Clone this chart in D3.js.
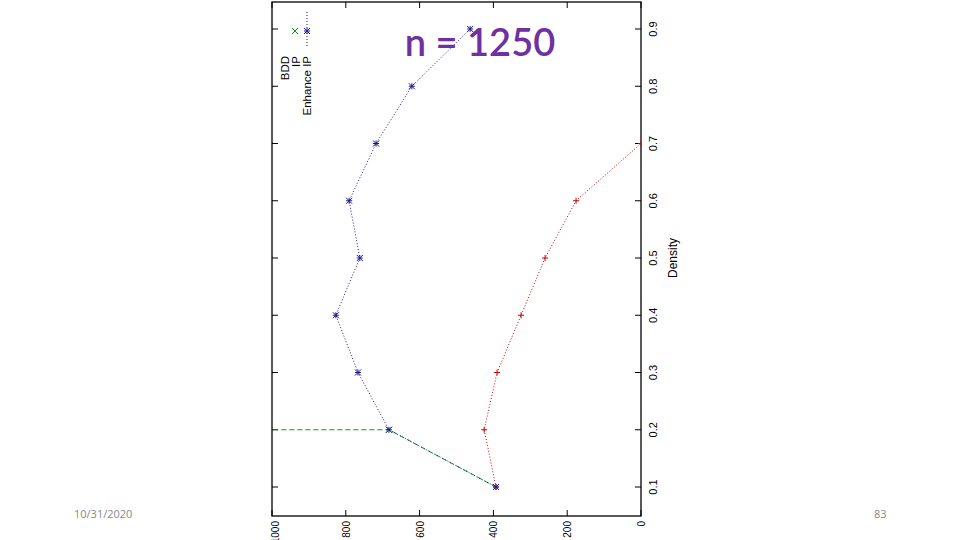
<!DOCTYPE html>
<html><head><meta charset="utf-8">
<script src="https://cdn.jsdelivr.net/npm/d3@7"></script>
<style>body{margin:0;background:#fff}</style>
</head><body>
<script>
// data (density vs value)
const density = [0.1, 0.2, 0.3, 0.4, 0.5, 0.6, 0.7, 0.8, 0.9]
const enhanceIP = [393, 683, 767, 827, 762, 791, 718, 621, 463]
const ipDensity = [0.1, 0.2, 0.3, 0.4, 0.5, 0.6, 0.7]
const ip = [393, 425, 390, 325, 260, 176, 0]
const bddDensity = [0.1, 0.2, 0.2]
const bdd = [393, 683, 1500]
const valueTicks = [0, 200, 400, 600, 800, 1000]
const densityTicks = [0.1, 0.2, 0.3, 0.4, 0.5, 0.6, 0.7, 0.8, 0.9]

const svg = d3.select('body').append('svg').attr('width', 960).attr('height', 540)
const L = 272, R = 641, T = 2, B = 516
const xv = d3.scaleLinear().domain([0, 1000]).range([R, L])
const yd = d3.scaleLinear().domain([0.1, 0.9]).range([487, 29])

svg.append('defs').append('clipPath').attr('id', 'c')
    .append('rect').attr('x', L).attr('y', T).attr('width', R - L).attr('height', B - T)

// ticks
const g = svg.append('g').attr('stroke', '#000').attr('stroke-width', 1)
densityTicks.forEach(d => {
    g.append('line').attr('x1', R).attr('x2', R - 6).attr('y1', yd(d)).attr('y2', yd(d))
    g.append('line').attr('x1', L).attr('x2', L + 6).attr('y1', yd(d)).attr('y2', yd(d))
})
valueTicks.forEach(v => {
    g.append('line').attr('x1', xv(v)).attr('x2', xv(v)).attr('y1', B).attr('y2', B - 6)
    g.append('line').attr('x1', xv(v)).attr('x2', xv(v)).attr('y1', T).attr('y2', T + 6)
})
svg.append('rect').attr('x', L).attr('y', T).attr('width', R - L).attr('height', B - T)
    .attr('fill', 'none').attr('stroke', '#000').attr('stroke-width', 1.3)

const font = 'Liberation Sans, Arial, sans-serif'
densityTicks.forEach(d => {
    svg.append('text').attr('transform', `translate(657,${yd(d)}) rotate(-90)`)
        .attr('text-anchor', 'middle').attr('font-family', font).attr('font-size', 11)
        .text(d.toFixed(1))
})
valueTicks.forEach(v => {
    svg.append('text').attr('transform', `translate(${Math.max(xv(v) + 4, 279)},${B + 5}) rotate(-90)`)
        .attr('text-anchor', 'end').attr('font-family', font).attr('font-size', 10)
        .text(v)
})
svg.append('text').attr('transform', `translate(677,${yd(0.5)}) rotate(-90)`)
    .attr('text-anchor', 'middle').attr('font-family', font).attr('font-size', 12).text('Density')

// series
const line = d3.line().x(d => xv(d[1])).y(d => yd(d[0]))
const plot = svg.append('g').attr('clip-path', 'url(#c)')
const series = [
    {dens: bddDensity, vals: bdd, color: '#00a000', dash: '5,3', sym: 'x'},
    {dens: ipDensity, vals: ip, color: '#cc0000', dash: '1,2', sym: '+'},
    {dens: density, vals: enhanceIP, color: '#1a1a9a', dash: '1,2', sym: '*'}
]
series.forEach(s => {
    const pts = s.vals.map((v, i) => [s.dens[i], v])
    plot.append('path').attr('d', line(pts)).attr('fill', 'none')
        .attr('stroke', s.color).attr('stroke-width', 1).attr('stroke-dasharray', s.dash)
    pts.forEach(p => {
        const x = xv(p[1]), y = yd(p[0]), r = 3
        let d
        if (s.sym == 'x') d = `M${x-r},${y-r}L${x+r},${y+r}M${x-r},${y+r}L${x+r},${y-r}`
        else if (s.sym == '+') d = `M${x-r},${y}L${x+r},${y}M${x},${y-r}L${x},${y+r}`
        else d = `M${x-r},${y}L${x+r},${y}M${x},${y-r}L${x},${y+r}M${x-r},${y-r}L${x+r},${y+r}M${x-r},${y+r}L${x+r},${y-r}`
        plot.append('path').attr('d', d).attr('stroke', s.color).attr('stroke-width', 1)
    })
})

// legend
const legend = [['BDD', 285], ['IP', 296], ['Enhance IP', 307]]
legend.forEach(l => {
    svg.append('text').attr('transform', `translate(${l[1] + 4},56) rotate(-90)`)
        .attr('text-anchor', 'end').attr('font-family', font).attr('font-size', 11.5).text(l[0])
})
svg.append('path').attr('d', 'M292,28L298,34M292,34L298,28').attr('stroke', '#00a000')
svg.append('line').attr('x1', 307).attr('x2', 307).attr('y1', 12).attr('y2', 47)
    .attr('stroke', '#1a1a9a').attr('stroke-dasharray', '1,2')
svg.append('path').attr('d', 'M304,31L310,31M307,28L307,34M304,28L310,34M304,34L310,28').attr('stroke', '#1a1a9a')

// title & footer
svg.append('text').attr('x', 480).attr('y', 56).attr('text-anchor', 'middle')
    .attr('font-family', 'Lato, sans-serif').attr('font-size', 38).attr('font-weight', 600)
    .attr('fill', '#7030a0').text('n = 1250')
svg.append('text').attr('x', 74).attr('y', 518).attr('font-family', 'Open Sans, sans-serif')
    .attr('font-size', 11).attr('fill', '#888').text('10/31/2020')
svg.append('text').attr('x', 874).attr('y', 518).attr('font-family', 'Open Sans, sans-serif')
    .attr('font-size', 11).attr('fill', '#888').text('83')
</script>
</body></html>
